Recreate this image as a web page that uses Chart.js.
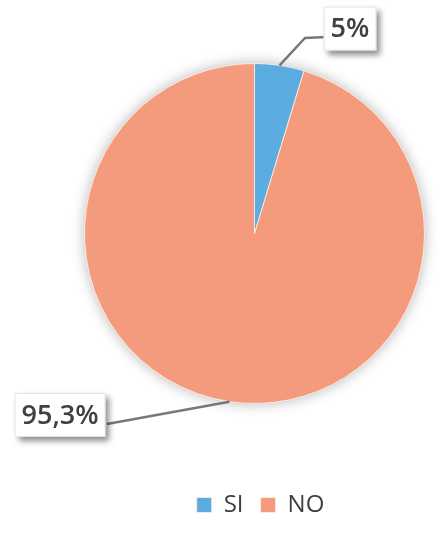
<!DOCTYPE html>
<html>
<head>
<meta charset="utf-8">
<script src="https://cdn.jsdelivr.net/npm/chart.js@4.4.1/dist/chart.umd.min.js"></script>
<style>
  html, body { margin: 0; padding: 0; background: #fff; }
  #wrap { width: 443px; height: 535px; }
</style>
</head>
<body>
<div id="wrap"><canvas id="pieChart"></canvas></div>
<script>
const categories = ['SI', 'NO'];
const values = [4.7, 95.3];
const valueLabels = ['5%', '95,3%'];
const sliceColors = ['#5BACE0', '#F49B7E'];

// soft grey glow behind the whole pie
const pieShadow = {
    id: 'pieShadow',
    beforeDatasetsDraw(chart) {
        const arc = chart.getDatasetMeta(0).data[0];
        if (!arc) return;
        const ctx = chart.ctx;
        ctx.save();
        ctx.shadowColor = 'rgba(0,0,0,0.3)';
        ctx.shadowBlur = 14;
        ctx.fillStyle = '#ffffff';
        ctx.beginPath();
        ctx.arc(arc.x, arc.y, arc.outerRadius, 0, Math.PI * 2);
        ctx.fill();
        ctx.restore();
    }
};

// callout labels with leader lines
const calloutLabels = {
    id: 'calloutLabels',
    afterDatasetsDraw(chart, args, opts) {
        const ctx = chart.ctx;
        const arcs = chart.getDatasetMeta(0).data;
        arcs.forEach((arc, i) => {
            const o = opts.items[i];
            const mid = (arc.startAngle + arc.endAngle) / 2;
            const sx = arc.x + Math.cos(mid) * arc.outerRadius;
            const sy = arc.y + Math.sin(mid) * arc.outerRadius;
            const text = valueLabels[i];

            ctx.save();
            ctx.font = opts.font;
            const tw = ctx.measureText(text).width;
            const bw = tw + opts.padX * 2;
            const bh = opts.boxHeight;
            const bx = arc.x + o.box[0] - bw / 2;
            const by = arc.y + o.box[1] - bh / 2;

            // leader line
            ctx.strokeStyle = '#777777';
            ctx.lineWidth = 2.5;
            ctx.beginPath();
            ctx.moveTo(sx, sy);
            o.path.forEach(p => ctx.lineTo(arc.x + p[0], arc.y + p[1]));
            ctx.stroke();

            // box with shadow
            ctx.shadowColor = 'rgba(0,0,0,0.45)';
            ctx.shadowBlur = 6;
            ctx.shadowOffsetX = 4;
            ctx.shadowOffsetY = 4;
            ctx.fillStyle = '#ffffff';
            ctx.fillRect(bx, by, bw, bh);
            ctx.shadowColor = 'transparent';
            ctx.strokeStyle = '#e4e4e4';
            ctx.lineWidth = 1;
            ctx.strokeRect(bx + 0.5, by + 0.5, bw - 1, bh - 1);

            ctx.fillStyle = '#404040';
            ctx.textAlign = 'center';
            ctx.textBaseline = 'middle';
            ctx.fillText(text, bx + bw / 2, by + bh / 2 + 1);
            ctx.restore();
        });
    }
};

// nudge the legend right and down, as in the original
const legendNudge = {
    id: 'legendNudge',
    afterLayout(chart) {
        chart.legend.left += 6;
        chart.legend.right += 6;
        chart.legend.top += 9;
        chart.legend.bottom += 9;
    }
};

new Chart(document.getElementById('pieChart'), {
    type: 'pie',
    data: {
        labels: categories,
        datasets: [{
            data: values,
            backgroundColor: sliceColors,
            borderColor: 'rgba(255,240,232,0.8)',
            borderWidth: 1,
            hoverOffset: 0
        }]
    },
    options: {
        responsive: true,
        maintainAspectRatio: false,
        animation: false,
        layout: {
            padding: { top: 0, bottom: 17, left: 84, right: 18 }
        },
        plugins: {
            tooltip: { enabled: false },
            legend: {
                position: 'bottom',
                labels: {
                    boxWidth: 15,
                    boxHeight: 15,
                    padding: 17,
                    color: '#404040',
                    font: { family: 'Open Sans', size: 24 }
                }
            },
            calloutLabels: {
                font: '600 27px "Open Sans"',
                padX: 7,
                boxHeight: 44,
                items: [
                    { box: [95.5, -205], path: [[50.5, -195.5], [72.5, -196.5]] },
                    { box: [-194.5, 181.5], path: [[-147.5, 190.5]] }
                ]
            }
        }
    },
    plugins: [pieShadow, calloutLabels, legendNudge]
});
</script>
</body>
</html>
